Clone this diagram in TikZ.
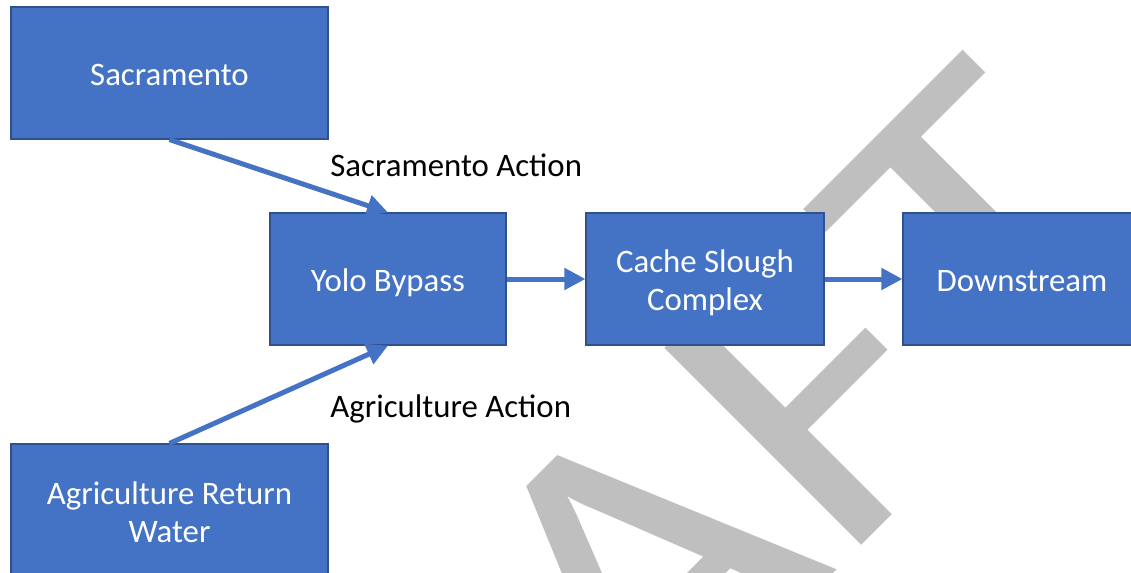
\documentclass[tikz,border=0pt]{standalone}
\usepackage{fontspec}
\setmainfont{Carlito}
\usetikzlibrary{arrows.meta}
\definecolor{boxfill}{HTML}{4472C4}
\definecolor{boxline}{HTML}{2F528F}
\definecolor{wmgray}{HTML}{BFBFBF}
\tikzset{
  flowbox/.style={draw=boxline, line width=0.6pt, fill=boxfill,
    inner sep=0pt, minimum height=66pt},
  boxtext/.style={text=white, align=center, inner sep=0pt,
    font=\fontsize{16.4pt}{19.25pt}\selectfont},
  flow/.style={draw=boxfill, line width=2.5pt,
    -{Triangle[length=10.5pt,width=10.5pt]}},
  actlabel/.style={anchor=base west, inner sep=0pt, text=black,
    font=\fontsize{16.4pt}{19.25pt}\selectfont},
  watermark/.style={rotate=45, anchor=base west, inner sep=0pt, text=wmgray,
    font=\fontsize{217pt}{217pt}\selectfont}
}
\begin{document}
\begin{tikzpicture}[x=0.5pt,y=-0.5pt]
\useasboundingbox (0,0) rectangle (1131,573);
\clip (0,0) rectangle (1131,573);

% diagonal watermark behind the diagram
\node[watermark] (wm) at (241,1166) {\scalebox{1.12}[1]{DRAFT}};

% boxes
\node[flowbox, minimum width=158.5pt] (sac) at (169.5,73) {};
\node[flowbox, minimum width=118pt] (yolo) at (388,279) {};
\node[flowbox, minimum width=119pt] (cache) at (705,279) {};
\node[flowbox, minimum width=119pt] (down) at (1022,279) {};
\node[flowbox, minimum width=158.5pt] (agri) at (169.5,510) {};

% box captions, set a little below the box centres
\node[boxtext] (sactext) at ([yshift=-1.2pt]sac.center) {Sacramento};
\node[boxtext] (yolotext) at ([yshift=-1.8pt]yolo.center) {Yolo Bypass};
\node[boxtext] (cachetext) at ([yshift=-1.8pt]cache.center) {Cache Slough\\Complex};
\node[boxtext] (downtext) at ([yshift=-1.2pt]down.center) {Downstream};
\node[boxtext] (agritext) at ([yshift=-1.2pt]agri.center) {Agriculture Return\\Water};

% flows
\draw[flow] (sac.south) -- (yolo.north);
\draw[flow] (agri.north) -- (yolo.south);
\draw[flow] (yolo.east) -- (cache.west);
\draw[flow] (cache.east) -- (down.west);

% action labels
\node[actlabel] (sacact) at (330,176) {Sacramento Action};
\node[actlabel] (agriact) at (330,417) {Agriculture Action};
\end{tikzpicture}
\end{document}
